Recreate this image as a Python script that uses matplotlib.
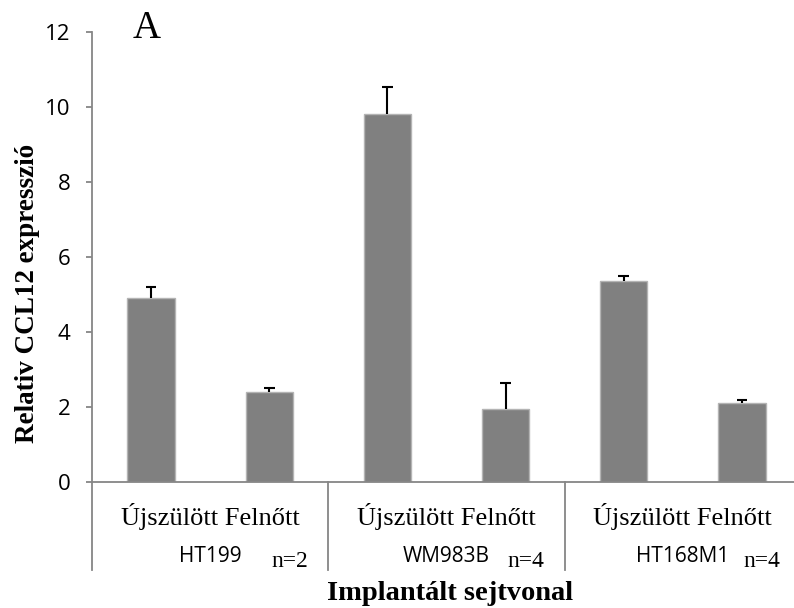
import numpy as np
import matplotlib.pyplot as plt
import matplotlib.transforms as mtransforms

# Relative CCL12 expression per implanted cell line (newborn / adult host)
cell_lines = ['HT199', 'WM983B', 'HT168M1']
conditions = ['Újszülött', 'Felnőtt']
n_values = [2, 4, 4]
means = [4.90, 2.39, 9.82, 1.96, 5.37, 2.12]
err_up = [0.31, 0.13, 0.72, 0.69, 0.12, 0.08]

W, H = 794, 608
fig = plt.figure(figsize=(W / 100, H / 100), dpi=100)
# axes extends a little past the right edge of the figure
ax = fig.add_axes([92 / W, (H - 482) / H, 709 / W, 450 / H])

x = np.arange(len(means))
ax.bar(x, means, width=0.4, color='#808080', edgecolor='#b4b4b4', linewidth=1, zorder=2)

# upper error bars only (stem + cap)
tops = np.array(means) + np.array(err_up)
cap = 0.045
ax.vlines(x, means, tops, color='black', lw=1.5, zorder=3)
ax.hlines(tops, x - cap, x + cap, color='black', lw=1.5, zorder=3)

ax.set_xlim(-0.5, len(means) - 0.5)
ax.set_ylim(0, 12)
ax.set_yticks(np.arange(0, 13, 2))
ax.set_xticks([])

axis_grey = '#868686'
for side in ['top', 'right']:
    ax.spines[side].set_visible(False)
ax.spines['left'].set_color(axis_grey)
ax.spines['bottom'].set_color(axis_grey)
ax.spines['left'].set_linewidth(1.3)
ax.spines['bottom'].set_linewidth(1.3)
ax.tick_params(axis='y', direction='out', length=4.5, width=1.3, color=axis_grey,
               labelsize=16, pad=11)
for lab in ax.get_yticklabels():
    lab.set_fontfamily('Open Sans')

# multi-level category axis: separators and labels under the plot
trans = mtransforms.blended_transform_factory(ax.transData, ax.transAxes)
drop = -(570 - 482) / 450
n_per = len(conditions)
for k in range(len(cell_lines) + 1):
    xs = k * n_per - 0.5
    ax.plot([xs, xs], [0, drop], transform=trans, color=axis_grey, lw=1.3, clip_on=False)

def ax_y(px):
    return (482 - px) / 450

for k, (line, n) in enumerate(zip(cell_lines, n_values)):
    cx = k * n_per + (n_per - 1) / 2
    ax.text(cx, ax_y(525), ' '.join(conditions), transform=trans, ha='center', va='baseline',
            fontsize=19, family='Liberation Serif')
    ax.text(cx, ax_y(562), line, transform=trans, ha='center', va='baseline',
            fontsize=15, family='Open Sans')
    ax.text(cx + 0.67, ax_y(567), f'n={n}', transform=trans, ha='center', va='baseline',
            fontsize=17, family='Liberation Serif')

fig.text(450 / W, (H - 600) / H, 'Implantált sejtvonal', ha='center', va='baseline',
         fontsize=20.5, fontweight='bold', family='Liberation Serif')
fig.text(28 / W, (H - 293) / H, 'Relativ CCL12 expresszió', ha='center', va='center',
         rotation=90, fontsize=19.5, fontweight='bold', family='Liberation Serif')
fig.text(133 / W, (H - 38) / H, 'A', ha='left', va='baseline', fontsize=28,
         family='Liberation Serif')

fig.savefig('out.png', dpi=100)
